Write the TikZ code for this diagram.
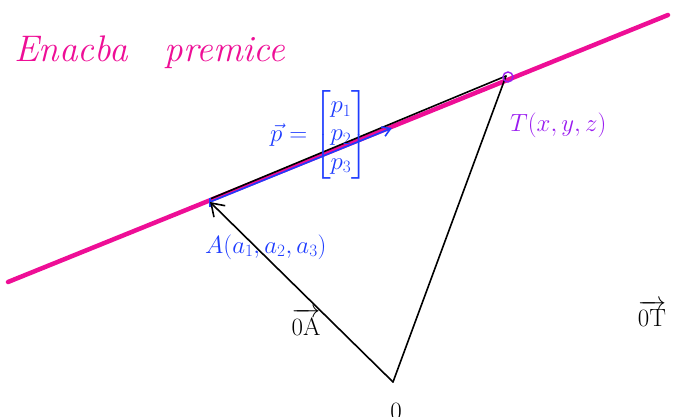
\documentclass[tikz,border=0pt]{standalone}
\usepackage{fontspec}
\usepackage{amsmath}
\usetikzlibrary{arrows.meta}
\definecolor{pinkline}{HTML}{EE0E96}
\definecolor{penblue}{HTML}{1E3CFF}
\definecolor{penpurple}{HTML}{9A1CF0}
\tikzset{
  line/.style={line width=1.6pt, line cap=round},
  lbl/.style={inner sep=0pt, font=\fontsize{25}{27}\selectfont}
}
\begin{document}
\begin{tikzpicture}[x=1pt,y=-1pt]
\useasboundingbox (0,0) rectangle (675,417);
\begin{scope}
\clip (0,0) rectangle (675,417);
% points
\coordinate (L1) at (8,282);
\coordinate (L2) at (668,15);
\coordinate (A) at (210,202);
\coordinate (T) at (506,79);
\coordinate (O) at (393,382);
\coordinate (Pend) at (392,128);
% line
\draw[pinkline, line width=4.5pt, line cap=round] (L1) -- (L2);
% black segment A to T
\draw[line, black] ([yshift=3pt]A) -- ([yshift=3pt]T);
% vector p
\draw[penblue, line width=1.6pt, -{Straight Barb[length=8pt,width=10pt]}] (A) -- (Pend);
\draw[penblue, line width=2pt] ([yshift=-5pt]A) -- ([yshift=4pt]A);
% O to A
\draw[line, black, -{Straight Barb[length=12pt,width=16pt]}] (O) -- (A);
% O to T
\draw[line, black] (O) -- ([yshift=3pt]T);
% circle at T
\draw[penpurple, line width=1.4pt] (508,77) circle (5);
% labels
\node[lbl, pinkline, anchor=west, font=\fontsize{37}{40}\selectfont\itshape] (title) at (14,52) {Enacba\quad premice};
\node[lbl, penblue, anchor=west] (plabel) at (270,135) {$\vec{p}=\renewcommand{\arraystretch}{1.05}\left[\begin{matrix}p_1\\p_2\\p_3\end{matrix}\right]$};
\node[lbl, penblue, anchor=west, font=\fontsize{27}{29}\selectfont] (Alabel) at (205,247) {$A(a_1,a_2,a_3)$};
\node[lbl, penpurple, anchor=west, font=\fontsize{29}{31}\selectfont] (Tlabel) at (510,125) {$T(x,y,z)$};
\node[lbl, black] (OA) at (306,322) {$\overrightarrow{0\mathrm{A}}$};
\node[lbl, black] (OT) at (652,313) {$\overrightarrow{0\mathrm{T}}$};
\node[lbl, black, anchor=north] (Olabel) at (396,403) {$0$};
\end{scope}
\end{tikzpicture}
\end{document}
